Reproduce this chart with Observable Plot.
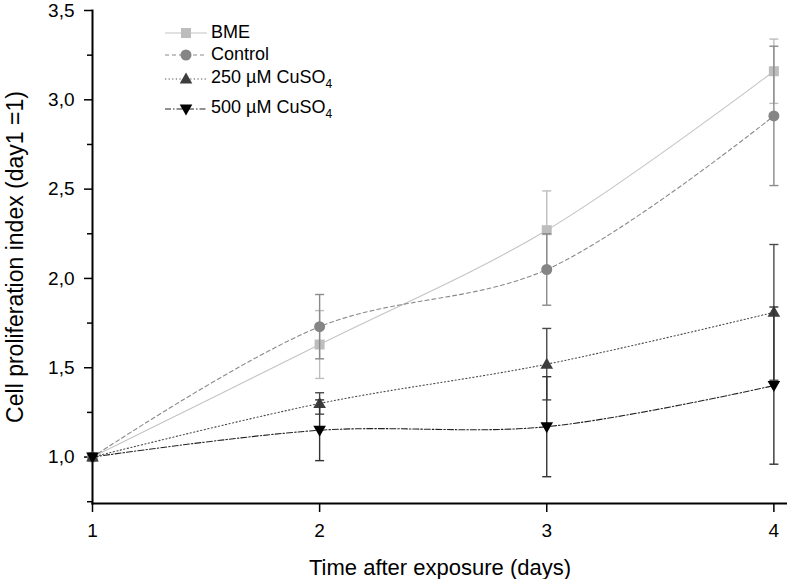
<!DOCTYPE html>
<html><head><meta charset="utf-8">
<script src="https://cdn.jsdelivr.net/npm/d3@7"></script>
<script src="https://cdn.jsdelivr.net/npm/@observablehq/plot@0.6"></script>
<style>
body{margin:0;background:#fff;}
#wrap{position:relative;width:787px;height:579px;font-family:"Liberation Sans",Arial,sans-serif;}
.lg{position:absolute;display:flex;align-items:center;font-size:18px;color:#000;white-space:nowrap;}
.lg svg{margin-right:4px;}
</style></head><body><div id="wrap"></div>
<script>
const days = [1, 2, 3, 4];
const xTickLabels = ["1", "2", "3", "4"];
const yTicks = [1.0, 1.5, 2.0, 2.5, 3.0, 3.5];
const yMinorTicks = [0.75, 1.25, 1.75, 2.25, 2.75, 3.25];
const seriesNames = ["BME", "Control", "250 µM CuSO4", "500 µM CuSO4"];
const legendMain = ["BME", "Control", "250 µM CuSO", "500 µM CuSO"];
const legendSub = ["", "", "4", "4"];
const xTitle = "Time after exposure (days)";
const yTitle = "Cell proliferation index (day1 =1)";

const bme = [1.00, 1.63, 2.27, 3.16];
const bmeErr = [0, 0.19, 0.22, 0.18];
const control = [1.00, 1.73, 2.05, 2.91];
const controlErr = [0, 0.18, 0.20, 0.39];
const cu250 = [1.00, 1.30, 1.52, 1.81];
const cu250Err = [0, 0.06, 0.20, 0.38];
const cu500 = [1.00, 1.15, 1.17, 1.40];
const cu500Err = [0, 0.17, 0.28, 0.44];

const values = [bme, control, cu250, cu500];
const errors = [bmeErr, controlErr, cu250Err, cu500Err];

const lineColors = ["#c4c4c4", "#8a8a8a", "#4a4a4a", "#222222"];
const markColors = ["#bdbdbd", "#858585", "#3d3d3d", "#000000"];
const errColors = ["#bdbdbd", "#8a8a8a", "#4a4a4a", "#333333"];
const dashes = [null, "4,3", "1.2,2.4", "6,2,1.5,2"];

const sym = {
  square: {draw(c){ c.rect(-5, -5, 10, 10); }},
  circle: {draw(c){ c.moveTo(5.5, 0); c.arc(0, 0, 5.5, 0, 2 * Math.PI); }},
  up: {draw(c){ c.moveTo(0, -6.5); c.lineTo(6.3, 4.5); c.lineTo(-6.3, 4.5); c.closePath(); }},
  down: {draw(c){ c.moveTo(0, 6.5); c.lineTo(6.3, -4.5); c.lineTo(-6.3, -4.5); c.closePath(); }},
  cap: {draw(c){ c.moveTo(-4.5, 0); c.lineTo(4.5, 0); }}
};
const symbols = [sym.square, sym.circle, sym.up, sym.down];

const rows = [];
seriesNames.forEach((s, i) => days.forEach((d, j) => rows.push({series: s, idx: i, day: d, value: values[i][j], err: errors[i][j]})));

const marks = [];
seriesNames.forEach((s, i) => {
  const data = rows.filter(r => r.idx === i);
  const eb = data.filter(r => r.err > 0);
  marks.push(Plot.link(eb, {x1: "day", x2: "day", y1: r => r.value - r.err, y2: r => r.value + r.err, stroke: errColors[i], strokeWidth: 1.4}));
  marks.push(Plot.dot(eb, {x: "day", y: r => r.value - r.err, symbol: sym.cap, stroke: errColors[i], strokeWidth: 1.4, fill: "none"}));
  marks.push(Plot.dot(eb, {x: "day", y: r => r.value + r.err, symbol: sym.cap, stroke: errColors[i], strokeWidth: 1.4, fill: "none"}));
  marks.push(Plot.line(data, {x: "day", y: "value", curve: "catmull-rom", stroke: lineColors[i], strokeWidth: 1.1, strokeDasharray: dashes[i]}));
  marks.push(Plot.dot(data, {x: "day", y: "value", symbol: symbols[i], fill: markColors[i], stroke: "none"}));
});

const chart = Plot.plot({
  width: 787,
  height: 579,
  marginLeft: 92,
  marginRight: 0,
  marginTop: 10,
  marginBottom: 76,
  style: {fontFamily: "Liberation Sans, Arial, sans-serif", background: "#fff"},
  x: {domain: [1, 4.06]},
  y: {domain: [0.74, 3.5]},
  marks: [
    Plot.axisY(yTicks, {tickSize: 8, tickPadding: 10, fontSize: 19, tickFormat: d => d.toFixed(1).replace(".", ","), label: null, strokeWidth: 1.5}),
    Plot.axisY(yMinorTicks, {tickSize: 5, tickFormat: () => "", label: null, strokeWidth: 1.5}),
    Plot.axisX(days, {tickSize: 9, tickPadding: 11, fontSize: 19, tickFormat: (d, i) => xTickLabels[i], label: null, strokeWidth: 1.5}),
    Plot.frame({anchor: "left", strokeWidth: 2}),
    Plot.frame({anchor: "bottom", strokeWidth: 2}),
    ...marks,
    Plot.text([yTitle], {frameAnchor: "left", textAnchor: "middle", rotate: -90, dx: -77, fontSize: 23}),
    Plot.text([xTitle], {frameAnchor: "bottom", dy: 71, fontSize: 22})
  ]
});

const wrap = document.getElementById("wrap");
wrap.appendChild(chart);

const legendTops = [32, 54, 77, 107];
const legendSym = [
  '<rect x="16" y="3" width="10" height="10"/>',
  '<circle cx="21" cy="8" r="5.5"/>',
  '<path d="M21,1.5L27.3,12.5L14.7,12.5Z"/>',
  '<path d="M21,14.5L27.3,3.5L14.7,3.5Z"/>'
];
seriesNames.forEach((s, i) => {
  const div = document.createElement("div");
  div.className = "lg";
  div.style.left = "165px";
  div.style.top = (legendTops[i] - 10) + "px";
  const dash = dashes[i] ? ` stroke-dasharray="${dashes[i]}"` : "";
  div.innerHTML = `<svg width="42" height="16"><line x1="0" x2="42" y1="8" y2="8" stroke="${lineColors[i]}" stroke-width="1.1"${dash}/><g fill="${markColors[i]}">${legendSym[i]}</g></svg><span>${legendMain[i]}${legendSub[i] ? `<sub style="font-size:12px">${legendSub[i]}</sub>` : ""}</span>`;
  wrap.appendChild(div);
});
</script>
</body></html>
